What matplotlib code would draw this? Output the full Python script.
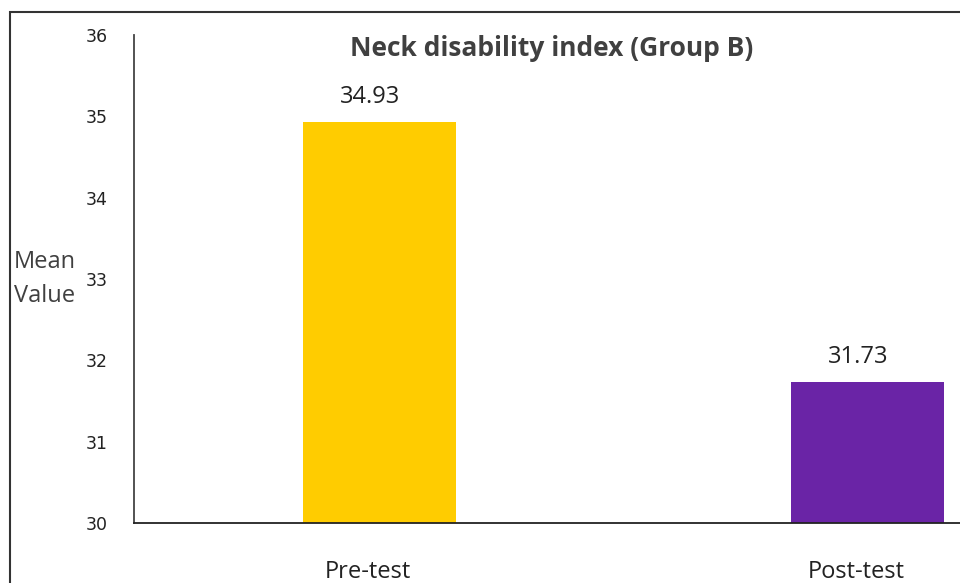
import matplotlib
matplotlib.use("Agg")
import matplotlib.pyplot as plt
import matplotlib.transforms as mtransforms
from matplotlib.patches import Rectangle

# data
groups = ["Pre-test", "Post-test"]
means = [34.93, 31.73]
bar_colors = ["#FFCC00", "#6A24A6"]
y_ticks = [30, 31, 32, 33, 34, 35, 36]

txt = "#404040"

fig = plt.figure(figsize=(9.6, 5.83), dpi=100)
ax = fig.add_axes([134/960, 1-523/583, 1-134/960, (523-35)/583])

x = range(len(groups))
ax.bar(x, [m - 30 for m in means], bottom=30, width=0.3135, color=bar_colors)

for xi, m in zip(x, means):
    ax.annotate(f"{m:.2f}", (xi, m), xytext=(-9, 13), textcoords="offset pixels",
                ha="center", va="bottom", fontsize=17, family="Open Sans", color="#222222")

ax.set_xlim(-0.502, 1.19)
ax.set_ylim(30, 36)
ax.set_yticks(y_ticks)
ax.set_yticklabels([str(t) for t in y_ticks], family="DejaVu Sans", fontsize=12.5, color="#222222")
ax.tick_params(axis="y", length=0, pad=19)
ax.set_xticks(list(x))
ax.set_xticklabels(groups, family="Open Sans", fontsize=17, color="#222222")
ax.tick_params(axis="x", length=0, pad=27)
# excel puts the category labels a bit left of the bar centres
off = mtransforms.ScaledTranslation(-11/100, 0, fig.dpi_scale_trans)
for lab in ax.get_xticklabels():
    lab.set_transform(lab.get_transform() + off)

ax.spines["top"].set_visible(False)
ax.spines["right"].set_visible(False)
ax.spines["left"].set_color("#444444")
ax.spines["bottom"].set_color("#222222")
ax.spines["left"].set_linewidth(1.3)
ax.spines["bottom"].set_linewidth(1.3)

ax.text(0.506, (523-56)/488, "Neck disability index (Group B)", transform=ax.transAxes,
        ha="center", va="baseline", fontsize=19, fontweight="bold", family="Open Sans", color=txt)

fig.text(14/960, 1-279/583, "Mean\nValue", ha="left", va="center", fontsize=17,
         family="Open Sans", color=txt, linespacing=1.55)

# outer frame of the picture
fig.patches.append(Rectangle((10/960, -0.2), 2, 1.2 - 12/583, transform=fig.transFigure,
                             fill=False, edgecolor="#333333", linewidth=1.5))

fig.savefig("out.png", dpi=100)
